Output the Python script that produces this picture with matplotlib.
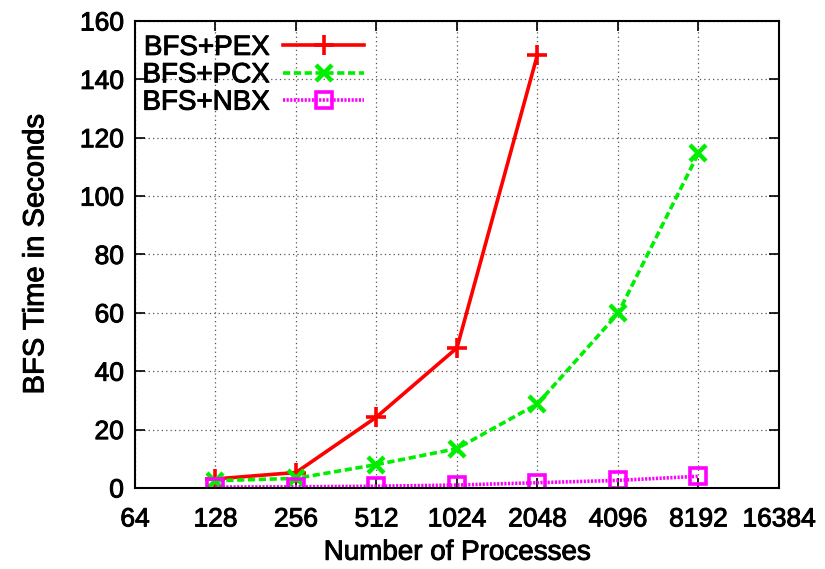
import matplotlib
matplotlib.use("Agg")
import matplotlib.pyplot as plt
import matplotlib.patheffects as pe
from matplotlib.ticker import FixedLocator, FixedFormatter, NullLocator

plt.rcParams['font.family'] = ['Liberation Sans', 'DejaVu Sans']

# data
procs = [128, 256, 512, 1024, 2048, 4096, 8192]
pex = [3.1, 5.3, 24.3, 48.0, 148.5]
pcx = [2.5, 3.3, 8.0, 13.5, 28.8, 59.8, 114.7]
nbx = [0.3, 0.4, 0.6, 1.0, 1.8, 2.6, 4.0]
xticks = [64, 128, 256, 512, 1024, 2048, 4096, 8192, 16384]
yticks = [0, 20, 40, 60, 80, 100, 120, 140, 160]

thick = [pe.withStroke(linewidth=0.7, foreground='black')]

fig = plt.figure(figsize=(8.25, 5.69), dpi=100)
ax = fig.add_axes([0.1636, 0.1424, 0.7806, 0.8207])

ax.plot(procs[:len(pex)], pex, color='#ff0000', lw=2.6, marker='+', ms=14, mew=2.6,
        label='BFS+PEX')
ax.plot(procs, pcx, color='#00ee00', lw=2.6, ls=(0, (2.0, 1.0)), marker='x', ms=12, mew=3.2,
        label='BFS+PCX')
ax.plot(procs, nbx, color='#ff00ff', lw=2.6, ls=(0, (0.6, 0.4)), marker='s', ms=12, mew=2.6,
        mfc='none', label='BFS+NBX')

ax.set_xscale('log', base=2)
ax.set_xlim(64, 16384)
ax.set_ylim(0, 160)
ax.xaxis.set_major_locator(FixedLocator(xticks))
ax.xaxis.set_major_formatter(FixedFormatter([str(t) for t in xticks]))
ax.xaxis.set_minor_locator(NullLocator())
ax.yaxis.set_major_locator(FixedLocator(yticks))

ax.grid(True, color='#555555', ls=(0, (1, 2.5)), lw=0.9)
ax.tick_params(direction='in', length=7, width=1.2, top=True, right=True,
               labelsize=19, pad=8)
ax.tick_params(axis='x', pad=14)
for s in ax.spines.values():
    s.set_linewidth(1.5)
for lab in ax.get_xticklabels() + ax.get_yticklabels():
    lab.set_path_effects(thick)

ax.set_xlabel('Number of Processes', fontsize=20, labelpad=6, path_effects=thick)
ax.set_ylabel('BFS Time in Seconds', fontsize=21, labelpad=22, path_effects=thick)

leg = ax.legend(loc='upper left', frameon=False, markerfirst=False, fontsize=20,
                handlelength=2.9, handletextpad=0.5, labelspacing=0.05,
                borderaxespad=0.1, bbox_to_anchor=(-0.01, 1.0))
for t in leg.get_texts():
    t.set_path_effects(thick)

fig.savefig('out.png', dpi=100)
